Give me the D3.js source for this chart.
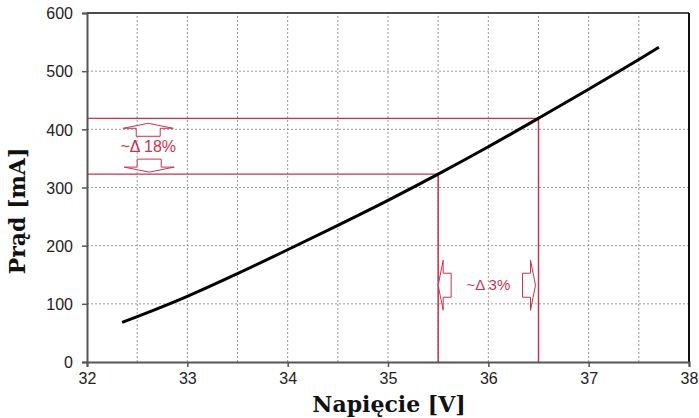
<!DOCTYPE html>
<html lang="pl">
<head>
<meta charset="UTF-8">
<title>Prąd / Napięcie</title>
<script src="https://d3js.org/d3.v7.min.js"></script>
<style>
  body { margin: 0; background: #fff; }
  .tick text { font-family: Arial, "Liberation Sans", sans-serif; font-size: 16px; fill: #222; }
</style>
</head>
<body>
<script>
// curve readings (V, mA)
var voltage = [32.35, 32.5, 33, 33.5, 34, 34.5, 35, 35.5, 36, 36.5, 37, 37.5, 37.7];
var current = [68, 78, 113, 152, 193, 235, 278, 323, 370, 419, 469, 520, 541];

var xTicks = [32, 33, 34, 35, 36, 37, 38];
var yTicks = [0, 100, 200, 300, 400, 500, 600];
var xGrid = [32.5, 33, 33.5, 34, 34.5, 35, 35.5, 36, 36.5, 37, 37.5];
var yGrid = [100, 200, 300, 400, 500];

// marked operating points
var markV = [35.5, 36.5];
var markI = [323, 419];

var W = 699, H = 418;
var m = {left: 87, right: 10, top: 13, bottom: 56};

var svg = d3.select("body").append("svg")
    .attr("width", W)
    .attr("height", H);

var x = d3.scaleLinear().domain([32, 38]).range([m.left, W - m.right]);
var y = d3.scaleLinear().domain([0, 600]).range([H - m.bottom, m.top]);

var red = "#c8334d";

// grid
svg.append("g").selectAll("line").data(xGrid).enter().append("line")
    .attr("x1", function(d) { return x(d); }).attr("x2", function(d) { return x(d); })
    .attr("y1", y(0)).attr("y2", y(600))
    .attr("stroke", "#999").attr("stroke-dasharray", "2,2").attr("stroke-width", 1);
svg.append("g").selectAll("line").data(yGrid).enter().append("line")
    .attr("y1", function(d) { return y(d); }).attr("y2", function(d) { return y(d); })
    .attr("x1", x(32)).attr("x2", x(38))
    .attr("stroke", "#999").attr("stroke-dasharray", "2,2").attr("stroke-width", 1);

// frame top/right
svg.append("line").attr("x1", x(32)).attr("x2", x(38)).attr("y1", y(600)).attr("y2", y(600))
    .attr("stroke", "#111").attr("stroke-width", 1.5);
svg.append("line").attr("x1", x(38)).attr("x2", x(38)).attr("y1", y(600)).attr("y2", y(0))
    .attr("stroke", "#111").attr("stroke-width", 2);

// red guide lines
for (var i = 0; i < markV.length; i++) {
  svg.append("line").attr("x1", x(32)).attr("x2", x(markV[i]))
      .attr("y1", y(markI[i])).attr("y2", y(markI[i]))
      .attr("stroke", red).attr("stroke-width", 1.2);
  svg.append("line").attr("x1", x(markV[i])).attr("x2", x(markV[i]))
      .attr("y1", y(markI[i])).attr("y2", y(0))
      .attr("stroke", red).attr("stroke-width", 1.5);
}

// axes
var xAxis = svg.append("g").attr("transform", "translate(0," + y(0) + ")")
    .call(d3.axisBottom(x).tickValues(xTicks).tickFormat(d3.format("d")).tickSize(5).tickPadding(6));
var yAxis = svg.append("g").attr("transform", "translate(" + x(32) + ",0)")
    .call(d3.axisLeft(y).tickValues(yTicks).tickFormat(d3.format("d")).tickSize(5).tickPadding(9));
[xAxis, yAxis].forEach(function(a) {
  a.select(".domain").attr("stroke", "#555").attr("stroke-width", 2);
  a.selectAll(".tick line").attr("stroke", "#555").attr("stroke-width", 1.5);
});
yAxis.selectAll(".tick text").attr("dy", "0.36em");

// curve
var line = d3.line()
    .x(function(d, i) { return x(voltage[i]); })
    .y(function(d, i) { return y(current[i]); })
    .curve(d3.curveMonotoneX);
svg.append("path").datum(current)
    .attr("d", line)
    .attr("fill", "none").attr("stroke", "#000").attr("stroke-width", 3)
    .attr("stroke-linecap", "butt");

// block arrows (outline)
function arrow(px, py, dir) {
  // up arrow shape pointing to (0,0), rotated by dir
  var pts = [[0, 0], [25, 5], [12, 5], [12, 13], [-12, 13], [-12, 5], [-25, 5]];
  svg.append("polygon")
      .attr("points", pts.map(function(p) { return p.join(","); }).join(" "))
      .attr("transform", "translate(" + px + "," + py + ") rotate(" + dir + ")")
      .attr("fill", "#fff").attr("stroke", red).attr("stroke-width", 1);
}
arrow(x(32.61), y(markI[1]) + 5, 0);
arrow(x(32.62), y(markI[0]) - 2, 180);
arrow(x(markV[0]), y(132), -90);
arrow(x(markV[1]) - 3, y(132), 90);

svg.append("text").attr("x", x(32.61)).attr("y", (y(markI[0]) + y(markI[1])) / 2 + 6)
    .attr("text-anchor", "middle").attr("fill", red)
    .style("font-family", "Arial, 'Liberation Sans', sans-serif").style("font-size", "16px")
    .text("~Δ 18%");
svg.append("text").attr("x", (x(markV[0]) + x(markV[1])) / 2).attr("y", y(132) + 5)
    .attr("text-anchor", "middle").attr("fill", red)
    .style("font-family", "Arial, 'Liberation Sans', sans-serif").style("font-size", "15px")
    .text("~Δ 3%");

// axis titles
svg.append("text").attr("x", 389).attr("y", 412)
    .attr("text-anchor", "middle").attr("fill", "#111")
    .style("font-family", "'DejaVu Serif', serif").style("font-weight", "bold").style("font-size", "22px")
    .text("Napięcie [V]");
svg.append("text").attr("transform", "translate(25,211) rotate(-90)")
    .attr("text-anchor", "middle").attr("fill", "#111")
    .style("font-family", "'DejaVu Serif', serif").style("font-weight", "bold").style("font-size", "22px")
    .text("Prąd [mA]");
</script>
</body>
</html>
